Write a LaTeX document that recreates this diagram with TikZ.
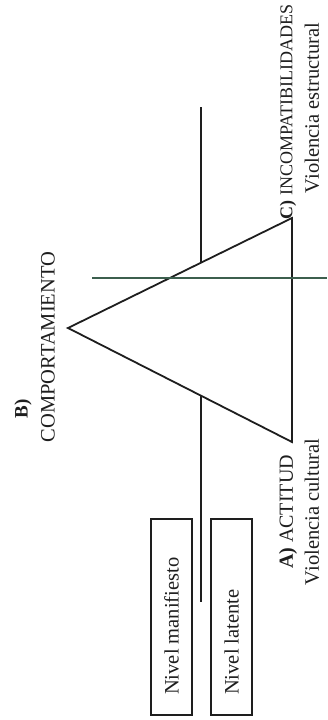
\documentclass[tikz,border=0pt]{standalone}
\usepackage{fontspec}
\setmainfont{Liberation Serif}
\definecolor{ink}{RGB}{30,30,30}
\definecolor{greenline}{RGB}{60,95,78}
\begin{document}
\begin{tikzpicture}[x=1pt,y=-1pt,
  ln/.style={draw=ink,line width=1.8pt},
  lvlbox/.style={draw=ink,line width=1.9pt},
  lbl/.style={rotate=90,inner sep=0pt,text=ink}]
\useasboundingbox (0,0) rectangle (327,720);
% triangle
\coordinate (apex) at (68,328);
\coordinate (ctop) at (292,218);
\coordinate (abot) at (292,442);
\draw[ln,line join=miter] (apex) -- (ctop) -- (abot) -- cycle;
% vertical divider (interrupted inside triangle)
\coordinate (vtop) at (201,107);
\coordinate (vup) at (201,263);
\coordinate (vlo) at (201,396);
\coordinate (vbot) at (201,602);
\draw[ln] (vtop) -- (vup);
\draw[ln] (vlo) -- (vbot);
% green horizontal line
\coordinate (hl) at (92,278);
\coordinate (hr) at (327,278);
\draw[draw=greenline,line width=1.7pt] (hl) -- (hr);
% boxes
\draw[lvlbox] (151,519) rectangle (192,715);
\draw[lvlbox] (211,519) rectangle (252,715);
\node[lbl,anchor=west,font=\fontsize{20.5}{22}\selectfont] (nm) at (171.5,695) {Nivel manifiesto};
\node[lbl,anchor=west,font=\fontsize{20.5}{22}\selectfont] (nl) at (231.5,695) {Nivel latente};
% labels
\node[lbl,font=\fontsize{19}{22}\selectfont\bfseries] (b) at (23,409) {B)};
\node[lbl,font=\fontsize{20.5}{22}\selectfont] (bc) at (48,347) {COMPORTAMIENTO};
\node[lbl,font=\fontsize{18}{22}\selectfont] (c) at (288,112) {\textbf{C)} INCOMPATIBILIDADES};
\node[lbl,font=\fontsize{20.5}{22}\selectfont] (cv) at (312,108) {Violencia estructural};
\node[lbl,font=\fontsize{20}{22}\selectfont] (a) at (288,512) {\textbf{A)} ACTITUD};
\node[lbl,font=\fontsize{20.5}{22}\selectfont] (av) at (312,512) {Violencia cultural};
\end{tikzpicture}
\end{document}
